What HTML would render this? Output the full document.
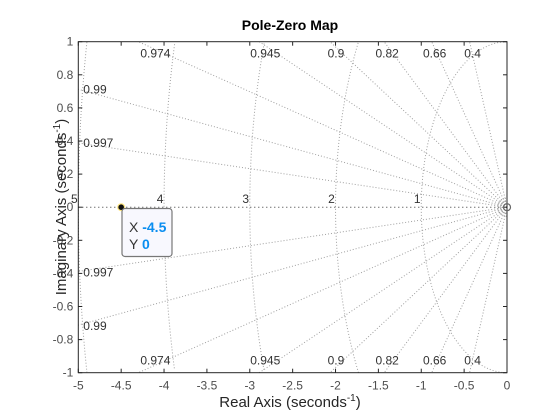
<!DOCTYPE html>
<html><head><meta charset="utf-8">
<style>
html,body{margin:0;padding:0;background:#fff;width:560px;height:420px;overflow:hidden;}
svg{display:block;font-family:"Liberation Sans",sans-serif;overflow:hidden;}
</style></head>
<body>
<svg id="chart" width="560" height="420" viewBox="0 0 560 420">
  <rect x="0" y="0" width="560" height="420" fill="#fff"/>
  <defs><clipPath id="pc"><rect x="78.3" y="41.7" width="428.7" height="331"/></clipPath></defs>
  <g id="grid" clip-path="url(#pc)"></g>
  <g id="gridlabels"></g>
  <g id="axes"></g>
  <g id="marks"></g>
  <text x="290" y="30" text-anchor="middle" font-size="14" font-weight="bold" fill="#000">Pole-Zero Map</text>
  <text x="290" y="407" text-anchor="middle" font-size="15" fill="#262626">Real Axis (seconds<tspan dy="-6" font-size="10">-1</tspan><tspan dy="6">)</tspan></text>
  <text transform="translate(66,207) rotate(-90)" text-anchor="middle" font-size="15" fill="#262626">Imaginary Axis (seconds<tspan dy="-6" font-size="10">-1</tspan><tspan dy="6">)</tspan></text>
  <g>
    <rect x="122" y="208.5" width="50" height="48" rx="3" fill="#f8f8fe" stroke="#777" stroke-width="1.2"/>
    <text x="129" y="232" font-size="14" fill="#333">X <tspan fill="#0a8ef0" font-weight="bold">-4.5</tspan></text>
    <text x="129" y="249" font-size="14" fill="#333">Y <tspan fill="#0a8ef0" font-weight="bold">0</tspan></text>
  </g>
</svg>
<script>
const poleRe = [-4.5];
const poleIm = [0];
const zeroRe = [0];
const zeroIm = [0];
const zetaVals = [0.4, 0.66, 0.82, 0.9, 0.945, 0.974, 0.99, 0.997];
const wnVals = [1, 2, 3, 4, 5];
const xTicks = [-5, -4.5, -4, -3.5, -3, -2.5, -2, -1.5, -1, -0.5, 0];
const yTicks = [-1, -0.8, -0.6, -0.4, -0.2, 0, 0.2, 0.4, 0.6, 0.8, 1];

const X0=78.3, X1=507, Y0=41.7, Y1=372.7;
const xMin=-5, xMax=0, yMin=-1, yMax=1;
const sx = v => X0 + (v - xMin) / (xMax - xMin) * (X1 - X0);
const sy = v => Y1 - (v - yMin) / (yMax - yMin) * (Y1 - Y0);
const NS='http://www.w3.org/2000/svg';
function mk(tag, attrs, parent){const e=document.createElementNS(NS,tag);for(const k in attrs)e.setAttribute(k,attrs[k]);parent.appendChild(e);return e;}
const grid=document.getElementById('grid'), gl=document.getElementById('gridlabels'), axes=document.getElementById('axes'), marks=document.getElementById('marks');

zetaVals.forEach(z=>{
  const s=Math.sqrt(1-z*z)/z;
  const R=Math.min(-xMin, yMax/s);
  [1,-1].forEach(sg=>{
    const l=mk('line',{x1:sx(0),y1:sy(0),x2:sx(-R),y2:sy(sg*R*s),stroke:'#a0a0a0','stroke-width':1,'stroke-dasharray':'1,2'},grid);
    
    
    let lx, ly, anchor='middle';
    const xTop=-1/s;
    if(xTop>=xMin){lx=sx(xTop)+(z>0.95?17:z>0.85?6:3); ly=sg>0?sy(1)+16:sy(-1)-8;}
    else {lx=sx(xMin)+5; ly=sy(sg*(-xMin)*s)+(sg>0?4:5); anchor='start';}
    const t=mk('text',{x:lx,y:ly,'font-size':12,fill:'#333','text-anchor':anchor},gl);
    t.textContent=String(z);
    
    
  });
});
wnVals.forEach(w=>{
  let d='', started=false;
  for(let i=0;i<=720;i++){
    const a=Math.PI/2+Math.PI*i/720;
    const x=w*Math.cos(a), y=w*Math.sin(a);
    if(x>=xMin && y>=yMin && y<=yMax){
      d+=(started?'L':'M')+sx(x).toFixed(2)+','+sy(y).toFixed(2);
      started=true;
    } else started=false;
  }
  const c=mk('path',{d:d,fill:'none',stroke:'#a0a0a0','stroke-width':1,'stroke-dasharray':'1,2'},grid);
  
  
  const t=mk('text',{x:sx(-w)-4,y:sy(0)-4,'font-size':12,fill:'#333','text-anchor':'middle'},gl);
  t.textContent=String(w);
  
  
});
[6,9].forEach(r=>{
  const c=mk('circle',{cx:sx(0),cy:sy(0),r:r,fill:'none',stroke:'#999','stroke-width':1,'stroke-dasharray':'1,1'},grid);
  
  
});
const ra=mk('line',{x1:X0,y1:sy(0),x2:X1,y2:sy(0),stroke:'#333','stroke-width':1,'stroke-dasharray':'1,3'},grid);



const box=mk('rect',{x:X0,y:Y0,width:X1-X0,height:Y1-Y0,fill:'none',stroke:'#262626','stroke-width':1},axes);


xTicks.forEach(v=>{
  const x=sx(v);
  mk('line',{x1:x,y1:Y1,x2:x,y2:Y1-4,stroke:'#262626'},axes);
  mk('line',{x1:x,y1:Y0,x2:x,y2:Y0+4,stroke:'#262626'},axes);
  const t=mk('text',{x:x,y:Y1+17,'font-size':12,fill:'#4d4d4d','text-anchor':'middle'},axes);
  t.textContent=String(v);
  
  
});
yTicks.forEach(v=>{
  const y=sy(v);
  mk('line',{x1:X0,y1:y,x2:X0+4,y2:y,stroke:'#262626'},axes);
  mk('line',{x1:X1,y1:y,x2:X1-4,y2:y,stroke:'#262626'},axes);
  const t=mk('text',{x:X0-5,y:y+4,'font-size':12,fill:'#4d4d4d','text-anchor':'end'},axes);
  t.textContent=String(v);
  
  
});
zeroRe.forEach((r,i)=>{
  const c=mk('circle',{cx:sx(r),cy:sy(zeroIm[i]),r:3.5,fill:'none',stroke:'#666','stroke-width':1.2},marks);
  
  
});
poleRe.forEach((r,i)=>{
  const h=mk('circle',{cx:sx(r),cy:sy(poleIm[i]),r:4,fill:'#ffe680',stroke:'none'},marks);
  
  
  const c=mk('circle',{cx:sx(r),cy:sy(poleIm[i]),r:2.8,fill:'#111'},marks);
  
  
});
</script>
</body></html>
